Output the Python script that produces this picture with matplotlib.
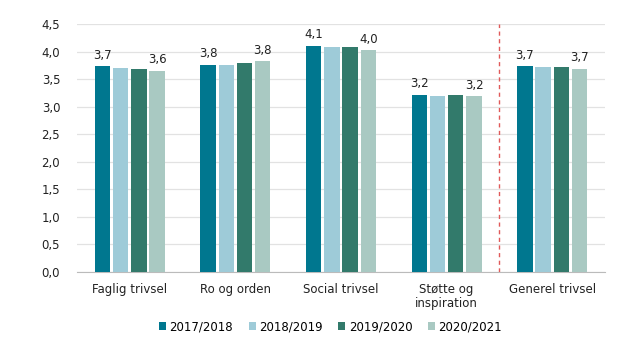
import matplotlib.pyplot as plt
import numpy as np

categories = ["Faglig trivsel", "Ro og orden", "Social trivsel", "Støtte og\ninspiration", "Generel trivsel"]
years = ["2017/2018", "2018/2019", "2019/2020", "2020/2021"]
v1718 = [3.73, 3.76, 4.11, 3.22, 3.73]
v1819 = [3.70, 3.75, 4.08, 3.19, 3.72]
v1920 = [3.69, 3.79, 4.08, 3.22, 3.72]
v2021 = [3.65, 3.83, 4.03, 3.19, 3.69]
yticks = [0.0, 0.5, 1.0, 1.5, 2.0, 2.5, 3.0, 3.5, 4.0, 4.5]

series = [v1718, v1819, v1920, v2021]
colors = ["#00778F", "#9ECBD8", "#327A6B", "#A9C9C2"]

plt.rcParams['font.family'] = ['DejaVu Sans']
fig = plt.figure(figsize=(6.2, 3.5), dpi=100)
ax = fig.add_axes([0.124, 0.224, 0.852, 0.707])

x = np.arange(len(categories))
w = 0.145
pitch = 0.173
for i, (vals, c) in enumerate(zip(series, colors)):
    pos = x + (i - 1.5) * pitch
    bars = ax.bar(pos, vals, width=w, color=c, label=years[i], zorder=3)
    if i in (0, 3):
        for b, v in zip(bars, vals):
            ax.text(b.get_x() + b.get_width() / 2, v + 0.08, f"{v:.1f}".replace(".", ","),
                    ha="center", va="bottom", fontsize=8.5, color="#222222")

ax.axvline(3.5, color="#E05A5A", linestyle=(0, (3, 2.5)), linewidth=1.0, zorder=4)

ax.set_xlim(-0.5, 4.5)
ax.set_ylim(0, 4.5)
ax.set_yticks(yticks)
ax.set_yticklabels([f"{t:.1f}".replace(".", ",") for t in yticks], fontsize=8.5, color="#222222")
ax.set_xticks(x)
ax.set_xticklabels(categories, fontsize=8.5, color="#222222", linespacing=1.1)
ax.tick_params(axis="both", length=0)
ax.tick_params(axis="y", pad=12)
ax.tick_params(axis="x", pad=8)
ax.yaxis.grid(True, color="#E2E2E2", linewidth=0.9, zorder=0)
for s in ["top", "right", "left"]:
    ax.spines[s].set_visible(False)
ax.spines["bottom"].set_color("#BBBBBB")

fig.legend(loc="center", bbox_to_anchor=(0.533, 0.067), ncol=4, frameon=False,
           fontsize=8.5, handlelength=0.6, handleheight=0.6, handletextpad=0.3,
           columnspacing=1.3)

fig.savefig("out.png", dpi=100)
